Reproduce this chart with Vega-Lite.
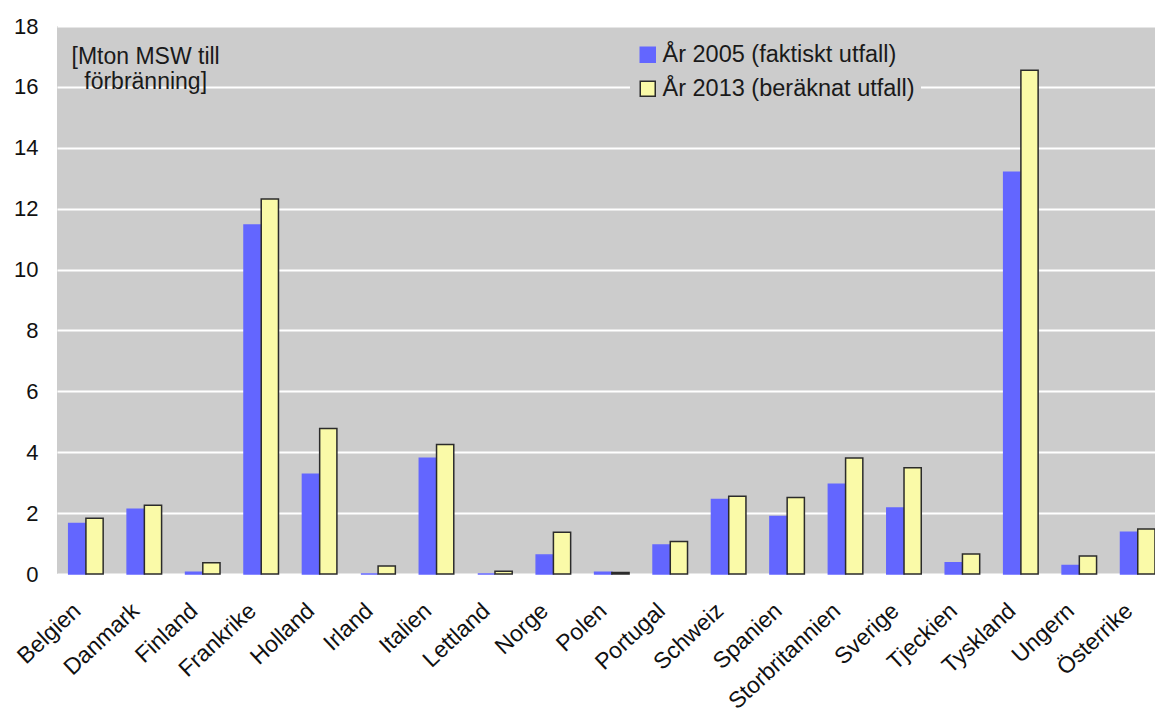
{
  "$schema": "https://vega.github.io/schema/vega-lite/v6.json",
  "width": 1098,
  "height": 548,
  "autosize": {"type": "none"},
  "padding": {"left": 57, "top": 26, "right": 0, "bottom": 141},
  "background": "#ffffff",
  "config": {
    "font": "Liberation Sans",
    "view": {"fill": "#cccccc", "stroke": null}
  },
  "data": {
    "values": [
      {"land": "Belgien", "serie": "År 2005 (faktiskt utfall)", "varde": 1.66},
      {"land": "Belgien", "serie": "År 2013 (beräknat utfall)", "varde": 1.83},
      {"land": "Danmark", "serie": "År 2005 (faktiskt utfall)", "varde": 2.13},
      {"land": "Danmark", "serie": "År 2013 (beräknat utfall)", "varde": 2.26},
      {"land": "Finland", "serie": "År 2005 (faktiskt utfall)", "varde": 0.06},
      {"land": "Finland", "serie": "År 2013 (beräknat utfall)", "varde": 0.37},
      {"land": "Frankrike", "serie": "År 2005 (faktiskt utfall)", "varde": 11.46},
      {"land": "Frankrike", "serie": "År 2013 (beräknat utfall)", "varde": 12.32},
      {"land": "Holland", "serie": "År 2005 (faktiskt utfall)", "varde": 3.28},
      {"land": "Holland", "serie": "År 2013 (beräknat utfall)", "varde": 4.78},
      {"land": "Irland", "serie": "År 2005 (faktiskt utfall)", "varde": 0},
      {"land": "Irland", "serie": "År 2013 (beräknat utfall)", "varde": 0.26},
      {"land": "Italien", "serie": "År 2005 (faktiskt utfall)", "varde": 3.8},
      {"land": "Italien", "serie": "År 2013 (beräknat utfall)", "varde": 4.25},
      {"land": "Lettland", "serie": "År 2005 (faktiskt utfall)", "varde": 0},
      {"land": "Lettland", "serie": "År 2013 (beräknat utfall)", "varde": 0.09},
      {"land": "Norge", "serie": "År 2005 (faktiskt utfall)", "varde": 0.62},
      {"land": "Norge", "serie": "År 2013 (beräknat utfall)", "varde": 1.37},
      {"land": "Polen", "serie": "År 2005 (faktiskt utfall)", "varde": 0.06},
      {"land": "Polen", "serie": "År 2013 (beräknat utfall)", "varde": 0.05},
      {"land": "Portugal", "serie": "År 2005 (faktiskt utfall)", "varde": 0.95},
      {"land": "Portugal", "serie": "År 2013 (beräknat utfall)", "varde": 1.07},
      {"land": "Schweiz", "serie": "År 2005 (faktiskt utfall)", "varde": 2.45},
      {"land": "Schweiz", "serie": "År 2013 (beräknat utfall)", "varde": 2.55},
      {"land": "Spanien", "serie": "År 2005 (faktiskt utfall)", "varde": 1.89},
      {"land": "Spanien", "serie": "År 2013 (beräknat utfall)", "varde": 2.51},
      {"land": "Storbritannien", "serie": "År 2005 (faktiskt utfall)", "varde": 2.95},
      {"land": "Storbritannien", "serie": "År 2013 (beräknat utfall)", "varde": 3.81},
      {"land": "Sverige", "serie": "År 2005 (faktiskt utfall)", "varde": 2.17},
      {"land": "Sverige", "serie": "År 2013 (beräknat utfall)", "varde": 3.49},
      {"land": "Tjeckien", "serie": "År 2005 (faktiskt utfall)", "varde": 0.37},
      {"land": "Tjeckien", "serie": "År 2013 (beräknat utfall)", "varde": 0.66},
      {"land": "Tyskland", "serie": "År 2005 (faktiskt utfall)", "varde": 13.2},
      {"land": "Tyskland", "serie": "År 2013 (beräknat utfall)", "varde": 16.55},
      {"land": "Ungern", "serie": "År 2005 (faktiskt utfall)", "varde": 0.28},
      {"land": "Ungern", "serie": "År 2013 (beräknat utfall)", "varde": 0.59},
      {"land": "Österrike", "serie": "År 2005 (faktiskt utfall)", "varde": 1.37},
      {"land": "Österrike", "serie": "År 2013 (beräknat utfall)", "varde": 1.48}
    ]
  },
  "mark": {"type": "bar", "strokeWidth": 1.5},
  "encoding": {
    "x": {
      "field": "land",
      "type": "nominal",
      "sort": null,
      "scale": {"paddingInner": 0.41, "paddingOuter": 0.1, "align": 1},
      "axis": {
        "title": null,
        "domain": false,
        "ticks": false,
        "labelAngle": -43,
        "labelAlign": "right",
        "labelBaseline": "top",
        "labelPadding": 25,
        "labelOffset": -16,
        "labelFontSize": 23,
        "labelColor": "#111111",
        "labelFont": "Liberation Sans"
      }
    },
    "xOffset": {"field": "serie", "type": "nominal", "scale": {"paddingInner": 0}},
    "y": {
      "field": "varde",
      "type": "quantitative",
      "scale": {"domain": [0, 18], "nice": false},
      "axis": {
        "values": [0, 2, 4, 6, 8, 10, 12, 14, 16, 18],
        "domain": false,
        "ticks": false,
        "grid": true,
        "gridColor": "#ffffff",
        "gridWidth": 2,
        "gridOpacity": 1,
        "labelPadding": 19,
        "labelFontSize": 22,
        "labelColor": "#111111",
        "labelFont": "Liberation Sans",
        "title": ["[Mton MSW till", "\u200b\u00a0\u00a0förbränning]"],
        "titleAngle": 0,
        "titleAlign": "left",
        "titleBaseline": "alphabetic",
        "titleX": 14,
        "titleY": 37,
        "titleFontSize": 23,
        "titleFontWeight": "normal",
        "titleColor": "#1a1a1a",
        "titleLineHeight": 25,
        "titleFont": "Liberation Sans"
      }
    },
    "color": {
      "field": "serie",
      "type": "nominal",
      "scale": {"range": ["#6366ff", "#fafaa8"]},
      "legend": {
        "title": null,
        "orient": "none",
        "legendX": 573,
        "legendY": 11,
        "padding": 6,
        "fillColor": "#cccccc",
        "symbolType": "square",
        "symbolSize": 225,
        "symbolStrokeWidth": 1.5,
        "symbolOpacity": 1,
        "labelFontSize": 23.5,
        "labelColor": "#1a1a1a",
        "labelFont": "Liberation Sans",
        "labelOffset": 3,
        "labelLimit": 400,
        "rowPadding": 9
      }
    },
    "stroke": {
      "field": "serie",
      "type": "nominal",
      "scale": {"range": ["#6366ff", "#2b2b2b"]},
      "legend": {
        "title": null,
        "orient": "none",
        "legendX": 573,
        "legendY": 11,
        "padding": 6,
        "fillColor": "#cccccc",
        "symbolType": "square",
        "symbolSize": 225,
        "symbolStrokeWidth": 1.5,
        "symbolOpacity": 1,
        "labelFontSize": 23.5,
        "labelColor": "#1a1a1a",
        "labelFont": "Liberation Sans",
        "labelOffset": 3,
        "labelLimit": 400,
        "rowPadding": 9
      }
    }
  }
}
